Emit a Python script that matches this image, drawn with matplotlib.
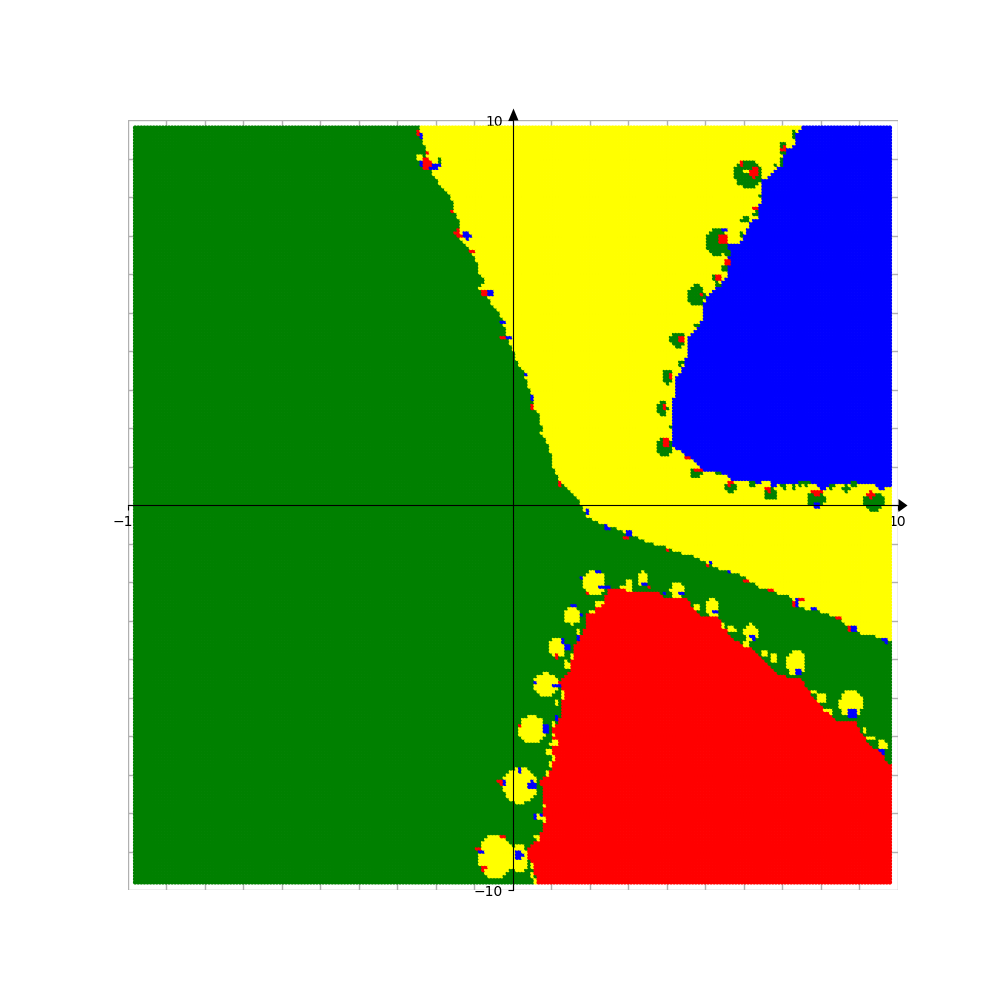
import numpy as np
import matplotlib
matplotlib.use("Agg")
import matplotlib.pyplot as plt
from matplotlib.path import Path
from matplotlib.ticker import MultipleLocator

# Region outlines (data units)
yellow_x = [-2.42,-2.42,-2.39,-2.29,-2.23,-2.16,-2.03,-1.82,-1.58,-1.51,-1.40,-1.38,-1.19,-1.04,-0.91,-0.81,-0.68,-0.68,-0.55,-0.34,-0.26,-0.16,0,0.13,0.31,0.44,0.57,0.70,0.78,0.75,0.91,1.01,1.04,1.22,1.40,1.74,1.82,1.95,2.13,2.47,2.73,2.96,3.35,3.61,4.00,4.29,4.68,5.06,5.43,5.64,6.10,6.36,6.75,7.19,7.51,8.05,8.49,8.70,8.96,9.45,9.87,10,10]
yellow_y = [10,9.84,9.56,9.40,9.14,8.88,8.57,8.26,7.97,7.71,7.40,6.96,6.75,6.57,6.31,5.92,5.84,5.45,5.25,5.06,4.81,4.47,4.08,3.77,3.43,3.04,2.55,2.34,1.95,1.87,1.64,1.35,1.04,0.70,0.44,0.13,-0.05,-0.31,-0.39,-0.57,-0.60,-0.73,-0.86,-0.99,-1.09,-1.22,-1.30,-1.48,-1.69,-1.69,-1.90,-2.10,-2.26,-2.34,-2.65,-2.78,-2.94,-3.12,-3.30,-3.40,-3.56,-3.56,10]
blue_x = [7.53,7.53,7.38,7.38,7.12,7.01,6.86,6.62,6.47,6.47,6.36,6.36,6.16,6.03,5.90,5.58,5.58,5.56,5.38,5.19,5.04,4.99,4.99,4.91,4.73,4.55,4.55,4.42,4.26,4.26,4.16,4.16,4.42,4.60,4.91,4.94,5.43,5.71,6.08,6.16,6.68,6.75,6.88,7.38,7.45,7.90,8.05,8.16,8.49,8.75,9.19,9.45,9.58,9.71,9.87,10,10]
blue_y = [10,9.84,9.66,9.40,9.22,8.88,8.70,8.52,8.49,7.92,7.66,7.48,7.32,7.01,6.83,6.75,6.18,5.92,5.77,5.58,5.40,5.27,4.81,4.81,4.55,4.29,3.90,3.51,3.30,2.86,2.78,1.51,1.38,1.22,0.99,0.86,0.86,0.65,0.65,0.57,0.62,0.44,0.55,0.52,0.62,0.52,0.34,0.44,0.55,0.57,0.60,0.52,0.34,0.44,0.47,0.47,10]
red_x = [0.57,0.62,0.57,0.39,0.39,0.78,0.81,0.83,0.70,1.01,1.04,1.01,1.17,1.30,1.30,1.22,1.53,1.53,1.66,1.87,1.92,2.18,2.39,2.52,2.91,3.22,3.74,3.90,4.03,4.52,4.81,4.94,5.32,5.45,5.71,6.10,6.36,6.68,6.88,7.25,7.53,7.64,7.97,8.44,8.96,9.01,9.35,9.66,9.71,9.87,10,10]
red_y = [-10,-9.74,-9.48,-9.14,-8.91,-8.49,-7.92,-7.48,-7.14,-6.88,-6.44,-5.84,-5.66,-5.40,-4.88,-4.55,-4.29,-3.95,-3.56,-3.25,-2.86,-2.68,-2.42,-2.13,-2.18,-2.26,-2.21,-2.34,-2.42,-2.42,-2.78,-2.91,-2.86,-3.06,-3.45,-3.64,-3.82,-4.16,-4.36,-4.47,-4.49,-4.75,-5.12,-5.58,-5.64,-5.84,-6.29,-6.44,-6.62,-6.81,-6.81,-10]

# Islands: centre and half extents
green_cx = [6.13,5.32,4.78,7.04,7.32,6.83,6.05,6.42,6.34,5.95,5.58,5.53,5.30,5.35,7.01,4.31,4.05,3.90,3.95,4.78,5.69,6.70,7.90,9.40,4.81,4.39,4.13,5.35,6.23,7.06,7.32,7.51,7.66,8.31,8.68,8.88,-1.87]
green_cy = [8.62,6.86,5.45,9.27,9.64,8.83,7.43,8.05,7.58,7.06,6.57,6.16,5.92,5.74,8.91,4.31,3.35,2.52,1.51,0.83,0.49,0.31,0.18,0.10,4.68,3.69,2.05,0.83,0.57,0.49,0.49,0.57,0.57,0.49,0.44,0.57,8.94]
green_rx = [.34,.26,.21,.08,.05,.05,.08,.04,.05,.05,.05,.05,.08,.05,.05,.18,.13,.13,.21,.13,.13,.16,.21,.26,.05,.05,.04,.05,.10,.05,.05,.05,.05,.05,.08,.08,.05]
green_ry = [.36,.34,.26,.13,.08,.05,.08,.04,.05,.05,.08,.05,.05,.05,.08,.18,.18,.16,.23,.13,.13,.16,.21,.21,.05,.05,.05,.04,.05,.05,.05,.05,.05,.05,.08,.05,.05]

yellow_cx = [2.13,3.38,4.29,5.22,1.56,1.17,.88,.52,.21,-.42,.18,6.21,7.38,8.81,9.61,6.78,8.05,5.71,2.18,2.31,2.08,1.74,1.58,1.43,1.32,1.32,1.17,1.09,1.09,1.09,.94,1.09,.99,.91,.83,.83,.70,.65,.52,.52,.62,-2.39,-.78,3.04,2.88,8.29,9.17,9.32,4.81,5.51,6.57,8.16,7.82,6.08,3.95,6.08]
yellow_cy = [-2.00,-1.90,-2.21,-2.65,-2.86,-3.69,-4.65,-5.82,-7.27,-9.12,-9.17,-3.30,-4.10,-5.14,-6.23,-3.97,-4.99,-3.22,-2.55,-2.55,-2.78,-3.27,-3.92,-4.13,-4.86,-4.99,-5.14,-5.66,-5.97,-6.18,-6.42,-6.57,-6.70,-6.96,-7.79,-8.18,-8.08,-8.62,-9.35,-9.61,-9.77,9.04,5.66,-2.08,-2.13,-5.38,-5.84,-6.05,-2.65,-3.12,-3.84,-5.32,-4.83,-3.61,1.56,8.70]
yellow_rx = [.29,.10,.16,.16,.21,.23,.29,.34,.44,.44,.21,.16,.23,.29,.10,.08,.10,.08,.04,.04,.04,.04,.04,.08,.04,.04,.04,.04,.04,.08,.08,.04,.04,.04,.05,.05,.08,.04,.04,.04,.04,.08,.08,.05,.05,.05,.05,.08,.08,.04,.05,.04,.05,.05,.05,.05]
yellow_ry = [.31,.18,.18,.21,.21,.23,.29,.34,.44,.55,.36,.21,.31,.34,.13,.10,.13,.08,.05,.05,.05,.05,.05,.08,.05,.05,.05,.05,.05,.08,.08,.05,.05,.05,.05,.05,.08,.05,.05,.05,.05,.04,.05,.13,.05,.08,.08,.05,.08,.05,.05,.05,.05,.05,.05,.05]

blue_cx = [-2.36,-1.97,-2.10,-2.34,-1.17,-.57,-.65,-.23,-.08,.34,.52,1.97,2.47,3.04,5.17,5.66,7.40,7.82,8.88,9.69,2.23,1.82,2.39,3.45,3.95,4.39,5.27,1.58,1.82,1.74,1.32,1.45,6.26,7.43,8.86,9.61,.60,1.14,1.17,.88,.18,.52,-.23,.18,-.81,.60,.75,7.92,5.51]
blue_cy = [9.61,8.81,8.78,8.86,7.01,5.53,5.51,4.75,4.36,3.38,2.81,-.16,-.57,-.75,-1.48,-1.71,-2.52,-2.70,-3.17,-3.51,-1.71,-1.87,-2.13,-2.05,-2.29,-2.29,-2.78,-2.62,-2.86,-3.43,-3.51,-3.69,-3.43,-4.31,-5.40,-6.39,-4.60,-4.68,-5.53,-5.79,-6.88,-7.25,-7.22,-9.09,-9.01,-8.10,-8.03,0,7.14]
blue_rx = [.04,.08,.05,.05,.08,.05,.04,.04,.04,.04,.05,.04,.04,.04,.04,.04,.04,.05,.05,.04,.04,.04,.13,.04,.04,.04,.05,.05,.04,.04,.04,.08,.05,.08,.10,.04,.04,.10,.04,.08,.04,.10,.04,.10,.04,.04,.04,.05,.04]
blue_ry = [.04,.08,.05,.05,.08,.08,.04,.05,.04,.04,.04,.04,.04,.08,.05,.04,.08,.04,.08,.04,.04,.05,.04,.05,.04,.05,.04,.04,.04,.05,.04,.04,.05,.08,.13,.04,.05,.04,.08,.08,.04,.08,.05,.10,.04,.05,.04,.05,.04]

red_cx = [-2.44,-2.21,-2.23,-1.56,-1.43,-1.35,-1.04,-.70,-.23,.52,1.25,2.96,4.03,5.09,6.08,6.73,7.32,7.51,8.47,8.75,1.97,3.53,1.17,.18,-.31,-.88,-.73,-.23,6.29,5.48,4.91,4.42,4.13,3.97,4.00,4.83,5.66,6.65,7.90,9.32,4.55,7.06,6.34,5.58,5.35,5.95]
red_cy = [9.69,9.17,8.88,7.64,7.09,7.01,6.57,5.53,4.36,2.55,.57,-.81,-1.14,-1.56,-1.95,-2.21,-2.55,-2.44,-2.94,-3.19,-2.29,-2.13,-3.92,-5.74,-7.17,-8.94,-9.43,-8.62,8.65,6.91,5.48,4.34,3.38,2.55,1.64,.91,.57,.42,.34,.29,1.25,9.27,7.71,6.31,5.92,8.86]
red_rx = [.04,.04,.10,.05,.05,.05,.05,.05,.04,.05,.04,.04,.04,.04,.04,.04,.05,.04,.05,.05,.04,.03,.04,.04,.04,.04,.04,.04,.08,.08,.05,.08,.05,.05,.08,.08,.05,.05,.13,.08,.05,.05,.05,.05,.05,.05]
red_ry = [.04,.05,.13,.05,.08,.05,.04,.08,.05,.04,.05,.04,.04,.04,.04,.04,.05,.03,.04,.04,.04,.03,.04,.04,.08,.04,.04,.04,.16,.13,.05,.08,.05,.05,.08,.03,.05,.05,.05,.08,.05,.05,.05,.08,.05,.05]

colors = np.array(["green", "yellow", "blue", "red"])

gx, gy = np.meshgrid(np.linspace(-9.8, 9.8, 246), np.linspace(-9.8, 9.8, 246))
pts = np.column_stack([gx.ravel(), gy.ravel()])
cls = np.zeros(len(pts), dtype=int)


def blobs(cx, cy, rx, ry):
    mask = np.zeros(len(pts), dtype=bool)
    for a, b, c, d in zip(cx, cy, rx, ry):
        mask |= ((pts[:, 0] - a) / (c + 0.02)) ** 2 + ((pts[:, 1] - b) / (d + 0.02)) ** 2 <= 1
    return mask


cls[Path(np.column_stack([yellow_x, yellow_y])).contains_points(pts)] = 1
cls[Path(np.column_stack([blue_x, blue_y])).contains_points(pts)] = 2
cls[Path(np.column_stack([red_x, red_y])).contains_points(pts)] = 3
cls[blobs(green_cx, green_cy, green_rx, green_ry)] = 0
cls[blobs(yellow_cx, yellow_cy, yellow_rx, yellow_ry)] = 1
cls[blobs(blue_cx, blue_cy, blue_rx, blue_ry)] = 2
cls[blobs(red_cx, red_cy, red_rx, red_ry)] = 3

fig, ax = plt.subplots(figsize=(10, 10), dpi=100)
ax.set_aspect("equal")
ax.scatter(pts[:, 0], pts[:, 1], s=11, c=colors[cls], marker="o", linewidths=0, zorder=2)

ax.set_xlim(-10, 10)
ax.set_ylim(-10, 10)
ax.set_xticks([-10, 10])
ax.set_yticks([-10, 10])
ax.xaxis.set_minor_locator(MultipleLocator(1))
ax.yaxis.set_minor_locator(MultipleLocator(1))
ax.tick_params(which="minor", length=0)
ax.grid(True, which="both", color="#b0b0b0", linewidth=1)
ax.set_axisbelow("line")
ax.spines["left"].set_position(("data", 0))
ax.spines["bottom"].set_position(("data", 0))
ax.spines["top"].set_visible(False)
ax.spines["right"].set_visible(False)

head_right = [(0, -6.5), (9, 0), (0, 6.5), (0, -6.5)]
head_up = [(-5, 0), (0, 12), (5, 0), (-5, 0)]
ax.plot(1, 0, marker=head_right, ms=13, mew=0, color="k", transform=ax.get_yaxis_transform(), clip_on=False, zorder=5)
ax.plot(0, 1, marker=head_up, ms=17.3, mew=0, color="k", transform=ax.get_xaxis_transform(), clip_on=False, zorder=5)

fig.savefig("out.png", dpi=100)
